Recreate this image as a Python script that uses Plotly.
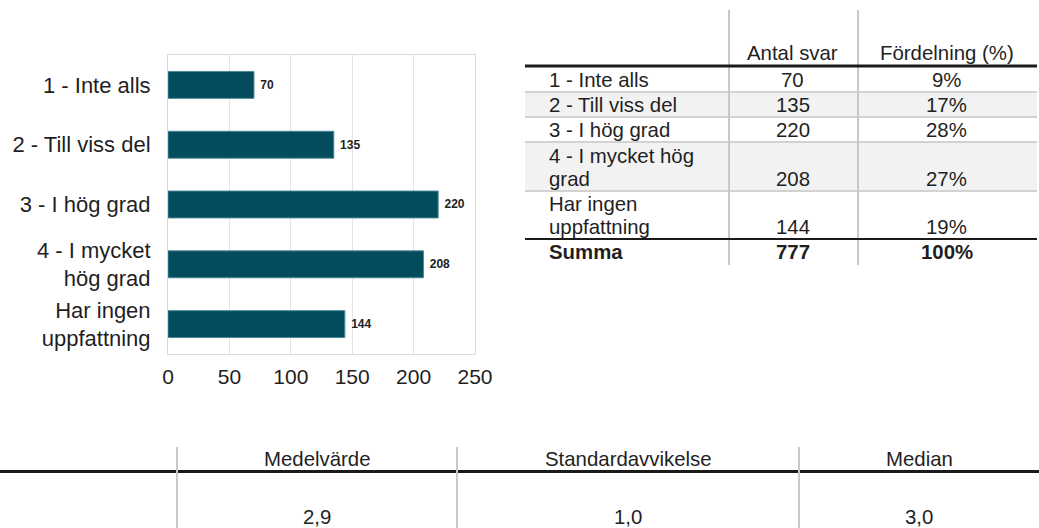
import plotly.graph_objects as go

W, H = 1039, 528

# ---- data ----
categories = ["1 - Inte alls", "2 - Till viss del", "3 - I hög grad", "4 - I mycket hög grad", "Har ingen uppfattning"]
chart_labels = ["1 - Inte alls", "2 - Till viss del", "3 - I hög grad", "4 - I mycket<br>hög grad", "Har ingen<br>uppfattning"]
table_labels = [["1 - Inte alls"], ["2 - Till viss del"], ["3 - I hög grad"], ["4 - I mycket hög", "grad"], ["Har ingen", "uppfattning"]]
counts = [70, 135, 220, 208, 144]
shares = ["9%", "17%", "28%", "27%", "19%"]
total_label = "Summa"
total_count = "777"
total_share = "100%"
table_headers = ["Antal svar", "Fördelning (%)"]
x_ticks = [0, 50, 100, 150, 200, 250]
stat_headers = ["Medelvärde", "Standardavvikelse", "Median"]
stat_values = ["2,9", "1,0", "3,0"]

FONT = "Liberation Sans, Arial, sans-serif"
TXT = "#1f1f1f"


def fx(x):
    return x / W


def fy(y):
    return 1 - y / H


fig = go.Figure()
fig.add_trace(go.Bar(
    x=counts, y=categories, orientation="h",
    marker=dict(color="#024c5e", line=dict(color="#4d8796", width=1)),
    texttemplate="&nbsp;%{x}", textposition="outside",
    textfont=dict(family=FONT, size=12, color="#222222", weight="bold"),
    cliponaxis=False, hoverinfo="skip",
))

shapes = []
annotations = []


def hline(x0, x1, y, color, width):
    shapes.append(dict(type="line", xref="paper", yref="paper", x0=fx(x0), x1=fx(x1),
                       y0=fy(y), y1=fy(y), line=dict(color=color, width=width)))


def vline(x, y0, y1, color, width):
    shapes.append(dict(type="line", xref="paper", yref="paper", x0=fx(x), x1=fx(x),
                       y0=fy(y0), y1=fy(y1), line=dict(color=color, width=width)))


def rect(x0, x1, y0, y1, color):
    shapes.append(dict(type="rect", xref="paper", yref="paper", x0=fx(x0), x1=fx(x1),
                       y0=fy(y0), y1=fy(y1), fillcolor=color, line=dict(width=0), layer="below"))


def text(x, y, s, anchor="center", size=20.4, bold=False):
    annotations.append(dict(xref="paper", yref="paper", x=fx(x), y=fy(y), text=s,
                            showarrow=False, xanchor=anchor, yanchor="middle",
                            font=dict(family=FONT, size=size, color=TXT,
                                      weight="bold" if bold else "normal")))


# ---- right table ----
TL, TR = 525, 1037
C1, C2 = 729, 858
row_bounds = [66, 92, 117, 142, 191, 239]
line_h = 22.7
rect(TL, TR, row_bounds[1], row_bounds[2], "#f2f2f2")
rect(TL, TR, row_bounds[3], row_bounds[4], "#f2f2f2")
for yb in row_bounds[1:5]:
    hline(TL, TR, yb, "#d2d2d2", 2)
vline(C1, 10, 265, "#c8c8c8", 2)
vline(C2, 10, 265, "#c8c8c8", 2)
hline(TL, TR, 66, "#1a1a1a", 3)
hline(TL, TR, 239, "#1a1a1a", 2)

col2_x = (C1 + C2) / 2 - 1
col3_x = (C2 + TR) / 2 - 1
text(col2_x, 53, table_headers[0])
text(col3_x, 53, table_headers[1])
for i, lines in enumerate(table_labels):
    bottom_y = row_bounds[i + 1] - 12
    n = len(lines)
    for j, ln in enumerate(lines):
        text(547, bottom_y - (n - 1 - j) * line_h, ln, anchor="left")
    text(col2_x, bottom_y, str(counts[i]))
    text(col3_x, bottom_y, shares[i])
text(547, 252, total_label, anchor="left", bold=True)
text(col2_x, 252, total_count, bold=True)
text(col3_x, 252, total_share, bold=True)

# ---- bottom stats table ----
hline(0, W, 471.5, "#1a1a1a", 3)
stat_lines = [177, 457, 799, W]
for xv in stat_lines[:3]:
    vline(xv, 447, 528, "#c8c8c8", 2)
for i, (h, v) in enumerate(zip(stat_headers, stat_values)):
    cx = (stat_lines[i] + stat_lines[i + 1]) / 2
    text(cx, 459, h)
    text(cx, 517, v)

fig.update_layout(
    template="none",
    width=W, height=H, autosize=False,
    margin=dict(l=0, r=0, t=0, b=0, pad=0, autoexpand=False),
    paper_bgcolor="white", plot_bgcolor="white",
    showlegend=False,
    bargap=0.55,
    shapes=shapes, annotations=annotations,
    xaxis=dict(domain=[fx(168), fx(475)], range=[0, 250], tickvals=x_ticks,
               showgrid=True, gridcolor="#e4e4e4", gridwidth=1,
               showline=True, linecolor="#d8dae6", linewidth=1, mirror=True,
               zeroline=False, ticks="", ticklabelstandoff=4, automargin=False,
               tickfont=dict(family=FONT, size=21, color=TXT), fixedrange=True),
    yaxis=dict(domain=[fy(354), fy(55)], autorange="reversed",
               tickvals=categories, ticktext=chart_labels,
               showline=True, linecolor="#d8dae6", linewidth=1, mirror=True,
               showgrid=False, zeroline=False, ticks="", ticklabelstandoff=12, automargin=False,
               tickfont=dict(family=FONT, size=22, color=TXT), fixedrange=True),
)

fig.write_html(
    "out.html",
    config={"displayModeBar": False, "responsive": False},
    post_script="document.body.style.margin='0';document.body.style.overflow='hidden';",
)
